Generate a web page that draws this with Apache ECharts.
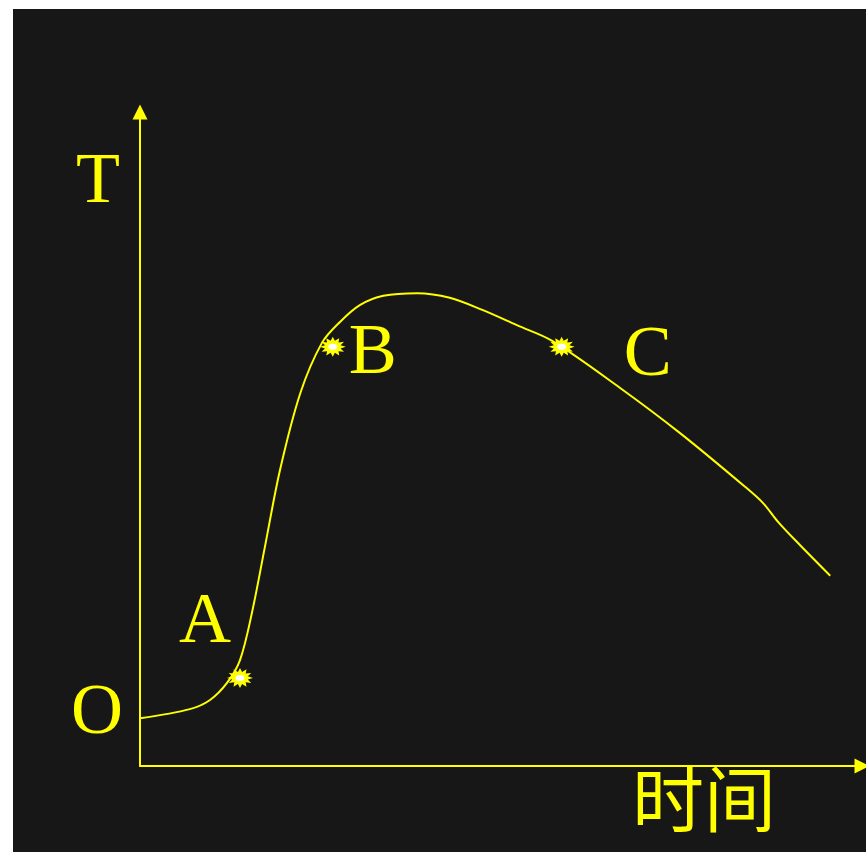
<!DOCTYPE html>
<html>
<head>
<meta charset="utf-8">
<script src="https://cdn.jsdelivr.net/npm/echarts@6/dist/echarts.min.js"></script>
<style>
  html, body { margin: 0; padding: 0; background: #fff; }
  #chart { position: absolute; left: 13px; top: 9px; width: 853px; height: 843px; }
</style>
</head>
<body>
<div id="chart"></div>
<script>
// Temperature curve over time (axis units 0..100)
var curveX = [0, 6.9, 9.7, 12.05, 13.85, 15.5, 17.3, 19.4, 22.2, 25.2, 27.7, 30.5, 33.7, 38.4, 42.9, 47.5, 52.2, 57.1, 66.5, 74.8, 83.8, 86.3, 88.4, 91.4, 95.6];
var curveY = [7.3, 8.7, 10.1, 12.7, 16.2, 23.4, 33.5, 45.3, 57.0, 64.7, 67.9, 70.5, 71.9, 72.3, 71.6, 69.7, 67.4, 65.0, 57.8, 50.9, 42.7, 40.2, 37.3, 33.8, 29.1];

// marked points
var pointNames = ['A', 'B', 'C'];
var pointX = [13.85, 26.7, 58.4];
var pointY = [13.46, 64.1, 64.1];

var YELLOW = '#ffff00';
var SERIF = '"Liberation Serif", "DejaVu Serif", serif';

// label offsets per marked point
var labelOffsets = { A: [-35, -55], B: [40, 7], C: [86, 9] };

// star burst symbol
function starPath(n) {
    var d = '';
    for (var i = 0; i < n * 2; i++) {
        var a = Math.PI * i / n;
        var r = i % 2 === 0 ? 1 : 0.62;
        d += (i === 0 ? 'M' : 'L') + (Math.cos(a) * r).toFixed(3) + ' ' + (Math.sin(a) * r).toFixed(3);
    }
    return 'path://' + d + 'Z';
}

var chart = echarts.init(document.getElementById('chart'));

var curveData = curveX.map(function (x, i) { return [x, curveY[i]]; });
var pointData = pointNames.map(function (n, i) { return { name: n, value: [pointX[i], pointY[i]] }; });

var hideAxis = {
    axisTick: { show: false },
    axisLabel: { show: false },
    splitLine: { show: false },
    axisLine: {
        show: true,
        symbol: ['none', 'triangle'],
        symbolSize: [15, 15],
        lineStyle: { color: YELLOW, width: 2 }
    }
};

chart.setOption({
    backgroundColor: '#171717',
    animation: false,
    grid: { left: 127, right: 4, top: 103, bottom: 86 },
    xAxis: Object.assign({ type: 'value', min: 0, max: 100 }, hideAxis),
    yAxis: Object.assign({ type: 'value', min: 0, max: 100 }, hideAxis),
    graphic: [
        { type: 'text', x: 85, y: 174, style: { text: 'T', font: '72px ' + SERIF, fill: YELLOW, textAlign: 'center', textVerticalAlign: 'middle' } },
        { type: 'text', x: 84, y: 705, style: { text: 'O', font: '72px ' + SERIF, fill: YELLOW, textAlign: 'center', textVerticalAlign: 'middle' } },
        { type: 'text', x: 691, y: 790, style: { text: '时间', font: '72px "Noto Sans CJK SC"', fill: YELLOW, textAlign: 'center', textVerticalAlign: 'middle' } }
    ],
    series: [
        {
            type: 'line',
            data: curveData,
            smooth: 0.33,
            showSymbol: false,
            lineStyle: { color: YELLOW, width: 2 },
            z: 2
        },
        {
            type: 'scatter',
            data: pointData.map(function (p) {
                return {
                    name: p.name, value: p.value,
                    label: { offset: labelOffsets[p.name] }
                };
            }),
            symbol: starPath(12),
            symbolSize: [26, 20],
            itemStyle: { color: YELLOW, opacity: 1 },
            label: {
                show: true, position: 'inside',
                formatter: '{b}',
                fontFamily: SERIF, fontSize: 72, color: YELLOW, opacity: 1
            },
            z: 3
        },
        {
            type: 'scatter',
            data: pointData.map(function (p) { return p.value; }),
            symbol: 'circle',
            symbolSize: [9, 6],
            itemStyle: { color: '#ffffff', opacity: 1 },
            z: 4
        }
    ]
});
</script>
</body>
</html>
